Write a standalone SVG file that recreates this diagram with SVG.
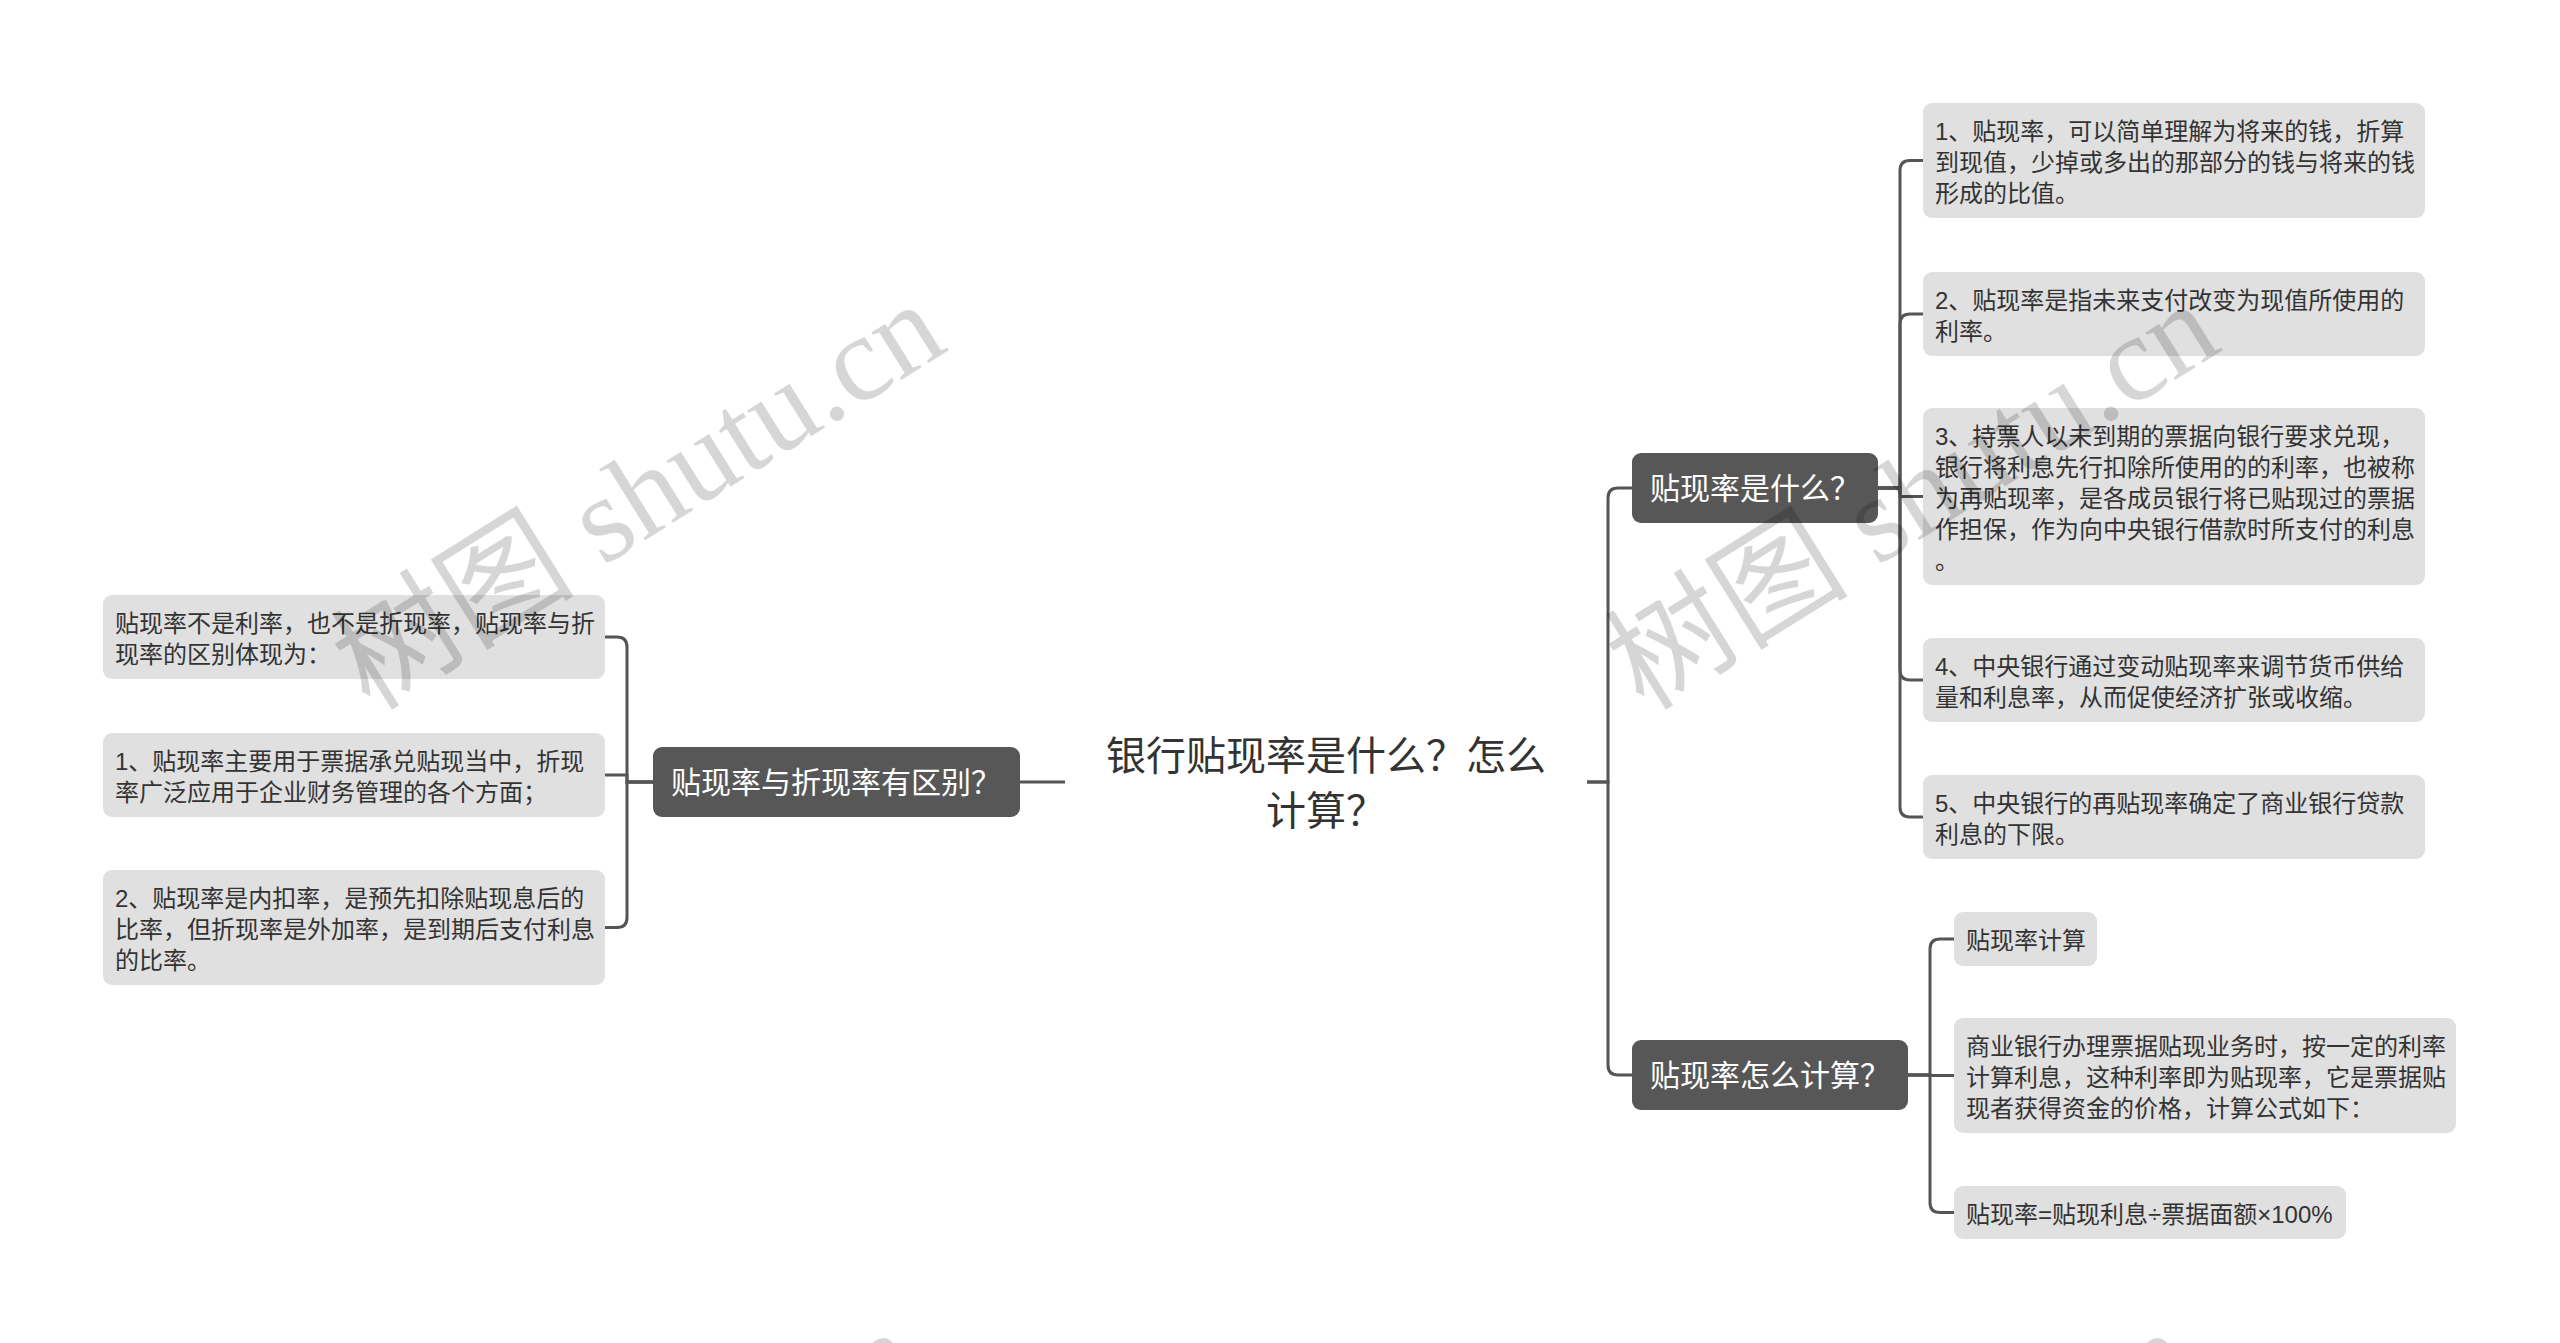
<svg xmlns="http://www.w3.org/2000/svg" width="2560" height="1343" viewBox="0 0 2560 1343">
<style>
.bg{fill:#ffffff}
.leaf rect{fill:#e0e0e0}
.leaf text{font-family:"Liberation Sans","Noto Sans CJK SC",sans-serif;font-size:24px;fill:#333333}
.main rect{fill:#575757}
.main text{font-family:"Liberation Sans","Noto Sans CJK SC",sans-serif;font-size:30px;fill:#ffffff}
.root text{font-family:"Liberation Sans","Noto Sans CJK SC",sans-serif;font-size:40px;fill:#333333}
.conn path{fill:none;stroke:#555555;stroke-width:3}
.wm{font-family:"Liberation Serif","Noto Sans CJK SC",serif;font-size:122px;fill:#000000;fill-opacity:0.16}
</style>
<rect class="bg" x="0" y="0" width="2560" height="1343"/>
<g id="connectors" class="conn">
<path d="M1020,782 H1065"/>
<path d="M653,782 H627 V647 Q627,637 617,637 H605"/>
<path d="M653,782 H627 V775 H605"/>
<path d="M653,782 H627 V917.5 Q627,927.5 617,927.5 H605"/>
<path d="M1587,782 H1608 V498 Q1608,488 1618,488 H1632"/>
<path d="M1587,782 H1608 V1065 Q1608,1075 1618,1075 H1632"/>
<path d="M1878,488 H1900 V170.5 Q1900,160.5 1910,160.5 H1923"/>
<path d="M1878,488 H1900 V324 Q1900,314 1910,314 H1923"/>
<path d="M1878,488 H1900 V496.5 H1923"/>
<path d="M1878,488 H1900 V670 Q1900,680 1910,680 H1923"/>
<path d="M1878,488 H1900 V807 Q1900,817 1910,817 H1923"/>
<path d="M1908,1075 H1930 V949 Q1930,939 1940,939 H1954"/>
<path d="M1908,1075 H1930 V1075.5 H1954"/>
<path d="M1908,1075 H1930 V1202.5 Q1930,1212.5 1940,1212.5 H1954"/>
</g>
<g id="root" class="root">
<text x="1326" y="770" text-anchor="middle">银行贴现率是什么？怎么</text>
<text x="1326" y="825" text-anchor="middle">计算？</text>
</g>
<g id="node-diff" class="main">
<rect x="653" y="747" width="367" height="70" rx="9"/>
<text x="671" y="793">贴现率与折现率有区别？</text>
</g>
<g id="node-what" class="main">
<rect x="1632" y="453" width="246" height="70" rx="9"/>
<text x="1650" y="499">贴现率是什么？</text>
</g>
<g id="node-calc" class="main">
<rect x="1632" y="1040" width="276" height="70" rx="9"/>
<text x="1650" y="1086">贴现率怎么计算？</text>
</g>
<g id="leaf-l1" class="leaf">
<rect x="103" y="595" width="502" height="84" rx="9"/>
<text x="115" y="632">贴现率不是利率，也不是折现率，贴现率与折</text>
<text x="115" y="663">现率的区别体现为：</text>
</g>
<g id="leaf-l2" class="leaf">
<rect x="103" y="733" width="502" height="84" rx="9"/>
<text x="115" y="770">1、贴现率主要用于票据承兑贴现当中，折现</text>
<text x="115" y="801">率广泛应用于企业财务管理的各个方面；</text>
</g>
<g id="leaf-l3" class="leaf">
<rect x="103" y="870" width="502" height="115" rx="9"/>
<text x="115" y="907">2、贴现率是内扣率，是预先扣除贴现息后的</text>
<text x="115" y="938">比率，但折现率是外加率，是到期后支付利息</text>
<text x="115" y="969">的比率。</text>
</g>
<g id="leaf-r1" class="leaf">
<rect x="1923" y="103" width="502" height="115" rx="9"/>
<text x="1935" y="140">1、贴现率，可以简单理解为将来的钱，折算</text>
<text x="1935" y="171">到现值，少掉或多出的那部分的钱与将来的钱</text>
<text x="1935" y="202">形成的比值。</text>
</g>
<g id="leaf-r2" class="leaf">
<rect x="1923" y="272" width="502" height="84" rx="9"/>
<text x="1935" y="309">2、贴现率是指未来支付改变为现值所使用的</text>
<text x="1935" y="340">利率。</text>
</g>
<g id="leaf-r3" class="leaf">
<rect x="1923" y="408" width="502" height="177" rx="9"/>
<text x="1935" y="445">3、持票人以未到期的票据向银行要求兑现，</text>
<text x="1935" y="476">银行将利息先行扣除所使用的的利率，也被称</text>
<text x="1935" y="507">为再贴现率，是各成员银行将已贴现过的票据</text>
<text x="1935" y="538">作担保，作为向中央银行借款时所支付的利息</text>
<text x="1935" y="569">。</text>
</g>
<g id="leaf-r4" class="leaf">
<rect x="1923" y="638" width="502" height="84" rx="9"/>
<text x="1935" y="675">4、中央银行通过变动贴现率来调节货币供给</text>
<text x="1935" y="706">量和利息率，从而促使经济扩张或收缩。</text>
</g>
<g id="leaf-r5" class="leaf">
<rect x="1923" y="775" width="502" height="84" rx="9"/>
<text x="1935" y="812">5、中央银行的再贴现率确定了商业银行贷款</text>
<text x="1935" y="843">利息的下限。</text>
</g>
<g id="leaf-c1" class="leaf">
<rect x="1954" y="912" width="143" height="54" rx="9"/>
<text x="1966" y="949">贴现率计算</text>
</g>
<g id="leaf-c2" class="leaf">
<rect x="1954" y="1018" width="502" height="115" rx="9"/>
<text x="1966" y="1055">商业银行办理票据贴现业务时，按一定的利率</text>
<text x="1966" y="1086">计算利息，这种利率即为贴现率，它是票据贴</text>
<text x="1966" y="1117">现者获得资金的价格，计算公式如下：</text>
</g>
<g id="leaf-c3" class="leaf">
<rect x="1954" y="1186" width="392" height="53" rx="9"/>
<text x="1966" y="1223">贴现率=贴现利息÷票据面额×100%</text>
</g>
<g id="watermark">
<text class="wm" transform="translate(370,712) rotate(-32)">树图 shutu.cn</text>
<text class="wm" transform="translate(1644,712) rotate(-32)">树图 shutu.cn</text>
<text class="wm" transform="translate(345,1740) rotate(-32)">树图 shutu.cn</text>
<text class="wm" transform="translate(1619,1740) rotate(-32)">树图 shutu.cn</text>
</g>
</svg>
